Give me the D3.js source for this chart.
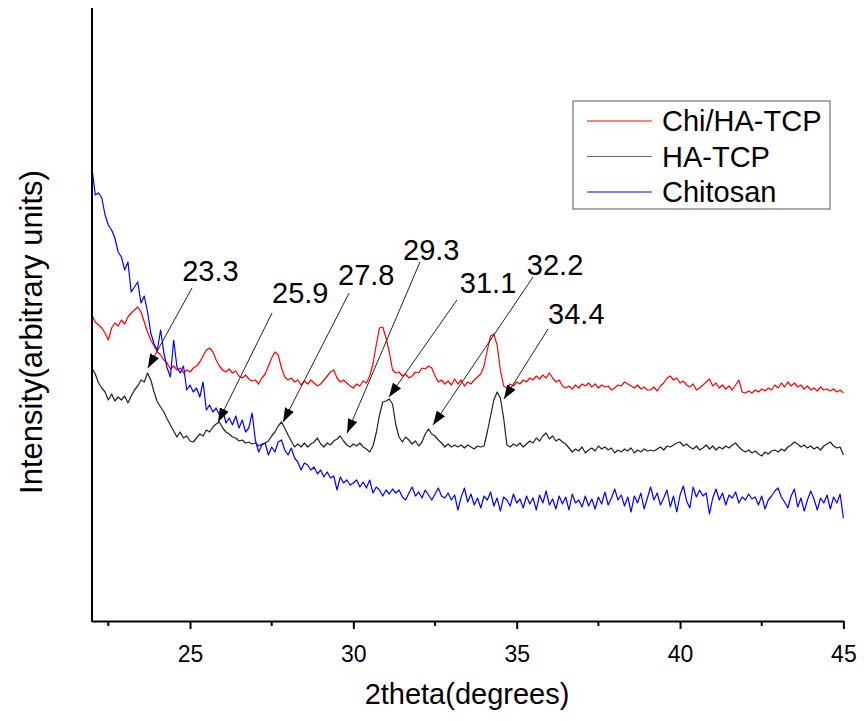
<!DOCTYPE html>
<html>
<head>
<meta charset="utf-8">
<script src="https://cdn.jsdelivr.net/npm/d3@7"></script>
<style>
  body { margin: 0; background: #fff; }
  text { font-family: "Liberation Sans", Arial, sans-serif; fill: #000; }
</style>
</head>
<body>
<div class="contents"></div>
<script>
var width = 866;
var height = 721;

// 2theta grid, 0.1 degree step from 22 to 45
var thetaStart = 22, thetaStep = 0.1;

// intensity (arbitrary units)
var chiHaTcp = [
  306,299,296,293,288,281,293,298,295,301,
  297,304,308,311,314,309,299,289,281,275,
  269,266,261,258,252,255,251,253,248,251,
  249,253,255,259,265,271,273,269,261,255,
  251,249,252,248,250,245,243,246,242,240,
  241,237,243,247,255,263,269,266,253,244,
  241,243,239,241,236,240,237,241,238,235,
  237,241,245,249,251,243,239,241,238,235,
  233,237,235,240,238,245,257,276,293,294,
  283,269,251,248,249,245,247,243,245,249,
  248,253,252,255,253,245,239,241,237,240,
  236,242,237,241,235,239,237,241,244,247,
  255,271,285,287,276,251,235,233,237,235,
  239,237,241,239,243,241,245,242,246,243,
  248,243,239,241,235,233,235,232,236,233,
  237,235,238,234,237,233,236,234,235,231,
  233,236,235,239,237,235,233,236,232,234,
  231,231,234,230,235,238,243,245,241,243,
  238,240,236,234,237,231,233,236,239,242,
  235,238,233,236,232,235,231,236,241,229,
  228,230,228,231,229,232,230,233,231,236,
  233,238,234,239,235,238,234,236,232,235,
  231,233,230,234,231,232,230,232,229,231,
  228];

var haTcp = [
  253,247,238,233,229,221,227,220,224,221,
  225,218,225,231,235,241,239,248,241,229,
  219,214,209,202,196,190,184,189,183,185,
  180,179,183,187,185,191,189,194,197,199,
  193,189,187,184,183,180,181,178,179,177,
  178,175,177,178,180,185,189,195,199,193,
  186,180,174,177,174,178,174,177,179,183,
  177,174,178,176,180,182,185,180,176,174,
  177,175,178,174,172,169,175,188,206,219,
  220,222,217,196,184,179,184,181,177,180,
  175,179,187,192,187,185,181,178,174,177,
  174,176,174,176,173,176,174,172,175,174,
  175,189,205,221,229,223,203,176,174,177,
  175,178,174,177,180,178,183,180,185,188,
  182,185,180,182,179,177,173,169,172,170,
  174,168,171,173,170,175,172,174,171,173,
  168,171,169,172,170,173,168,171,169,172,
  170,171,170,172,174,171,175,174,176,178,
  179,175,177,174,172,175,171,173,176,172,
  175,171,174,172,175,173,176,178,174,171,
  169,171,168,170,167,165,169,167,170,171,
  169,172,170,174,176,179,177,174,176,173,
  175,172,174,171,175,177,179,175,173,174,
  166];

var chitosan = [
  453,426,428,423,406,396,391,383,369,364,
  351,359,329,334,339,318,325,309,288,277,
  271,291,268,253,244,281,254,248,255,231,
  236,229,233,224,239,211,216,209,213,206,
  211,198,203,196,205,193,201,189,193,208,
  181,169,176,178,166,174,169,179,181,171,
  166,173,163,159,151,158,156,151,154,147,
  151,144,149,143,145,131,144,138,141,136,
  138,141,134,139,133,141,128,134,131,125,
  131,127,132,128,131,124,121,128,134,125,
  129,123,131,126,121,127,133,125,123,128,
  121,126,111,124,133,119,127,116,123,113,
  125,121,129,115,123,110,124,121,115,127,
  118,122,113,125,117,123,111,126,118,130,
  116,122,112,125,117,124,111,127,118,121,
  114,125,115,122,112,124,117,129,116,123,
  132,121,126,115,124,109,125,118,128,112,
  123,134,121,128,116,123,131,114,125,109,
  126,135,120,113,134,124,131,125,128,107,
  123,132,121,128,116,126,123,129,118,124,
  121,127,122,124,116,125,112,121,125,130,
  133,124,119,113,125,132,114,123,110,121,
  130,122,111,123,118,126,112,124,118,127,
  103];

var seriesNames = ["Chi/HA-TCP", "HA-TCP", "Chitosan"];
var seriesColors = ["#ff0000", "#222222", "#0000ff"];
var legendColors = ["#ff0000", "#666666", "#0000ff"];

var xTicks = [25, 30, 35, 40, 45];
var xMinorTicks = [22.5, 27.5, 32.5, 37.5, 42.5];

// peak annotations: label, arrow tip, arrow tail, text anchor (data units)
var peakLabels = ["23.3", "25.9", "27.8", "29.3", "31.1", "32.2", "34.4"];
var tipTheta  = [23.71, 25.86, 27.85, 29.81, 31.09, 32.44, 34.61];
var tipInt    = [253, 199, 199, 188, 224, 196, 222];
var tailTheta = [25.06, 27.51, 29.87, 32.04, 33.17, 35.50, 35.96];
var tailInt   = [333, 308, 328, 359, 321, 344, 292];
var textTheta = [24.76, 27.51, 29.53, 31.52, 33.26, 35.31, 35.96];
var textInt   = [340, 318, 336, 361, 328, 346, 297];

var svg = d3.select(".contents").append("svg")
  .attr("width", width)
  .attr("height", height);

var x = d3.scaleLinear().domain([22, 45]).range([92, 843.4]);
var y = d3.scaleLinear().domain([0, 613]).range([621, 8]);

var line = d3.line()
  .x(function(d, i){ return x(thetaStart + i * thetaStep); })
  .y(function(d){ return y(d); });

var allSeries = [chiHaTcp, haTcp, chitosan];

svg.selectAll("path.curve")
  .data(allSeries)
  .enter()
  .append("path")
  .attr("class", "curve")
  .attr("d", line)
  .style("fill", "none")
  .style("stroke", function(d, i){ return seriesColors[i]; })
  .style("stroke-width", 1.2)
  .style("stroke-linejoin", "round");

// axes
var xAxis = d3.axisBottom(x)
  .tickValues(xTicks)
  .tickSize(8)
  .tickPadding(17)
  .tickSizeOuter(0);
var gx = svg.append("g")
  .attr("transform", "translate(0,621)")
  .call(xAxis);
gx.select(".domain").style("stroke", "#000").style("stroke-width", 2);
gx.selectAll(".tick line").style("stroke", "#000").style("stroke-width", 2);
gx.selectAll(".tick text")
  .style("font-size", "23px")
  .style("font-family", "'Liberation Sans', Arial, sans-serif")
  .style("fill", "#000");

gx.selectAll("line.minor")
  .data(xMinorTicks)
  .enter()
  .append("line")
  .attr("class", "minor")
  .attr("x1", function(d){ return x(d); })
  .attr("x2", function(d){ return x(d); })
  .attr("y1", 0)
  .attr("y2", 5)
  .style("stroke", "#000")
  .style("stroke-width", 2);

svg.append("line")
  .attr("x1", x(22)).attr("x2", x(22))
  .attr("y1", 8).attr("y2", 622)
  .style("stroke", "#000")
  .style("stroke-width", 2);

svg.append("text")
  .attr("x", 467)
  .attr("y", 704)
  .attr("text-anchor", "middle")
  .style("font-size", "29px")
  .text("2theta(degrees)");

svg.append("text")
  .attr("transform", "translate(42,332) rotate(-90)")
  .attr("text-anchor", "middle")
  .style("font-size", "31px")
  .text("Intensity(arbitrary units)");

// arrows
svg.append("defs").append("marker")
  .attr("id", "arrow")
  .attr("viewBox", "0 0 14 10")
  .attr("refX", 14)
  .attr("refY", 5)
  .attr("markerWidth", 14)
  .attr("markerHeight", 10)
  .attr("markerUnits", "userSpaceOnUse")
  .attr("orient", "auto")
  .append("path")
  .attr("d", "M0,0 L14,5 L0,10 Z")
  .style("fill", "#000");

svg.selectAll("line.arrow")
  .data(peakLabels)
  .enter()
  .append("line")
  .attr("class", "arrow")
  .attr("x1", function(d, i){ return x(tailTheta[i]); })
  .attr("y1", function(d, i){ return y(tailInt[i]); })
  .attr("x2", function(d, i){ return x(tipTheta[i]); })
  .attr("y2", function(d, i){ return y(tipInt[i]); })
  .style("stroke", "#222")
  .style("stroke-width", 1)
  .attr("marker-end", "url(#arrow)");

svg.selectAll("text.peak")
  .data(peakLabels)
  .enter()
  .append("text")
  .attr("class", "peak")
  .attr("x", function(d, i){ return x(textTheta[i]); })
  .attr("y", function(d, i){ return y(textInt[i]); })
  .style("font-size", "29px")
  .text(function(d){ return d; });

// legend
var legend = svg.append("g");
legend.append("rect")
  .attr("x", 573).attr("y", 101)
  .attr("width", 257).attr("height", 108)
  .style("fill", "#fff")
  .style("stroke", "#555")
  .style("stroke-width", 1);

var rows = legend.selectAll("g.row")
  .data(seriesNames)
  .enter()
  .append("g")
  .attr("class", "row")
  .attr("transform", function(d, i){ return "translate(0," + (121 + i * 35.5) + ")"; });
rows.append("line")
  .attr("x1", 587).attr("x2", 652)
  .attr("y1", 0).attr("y2", 0)
  .style("stroke", function(d, i){ return legendColors[i]; })
  .style("stroke-width", 1);
rows.append("text")
  .attr("x", 662)
  .attr("y", 10)
  .style("font-size", "29px")
  .text(function(d){ return d; });
</script>
</body>
</html>
